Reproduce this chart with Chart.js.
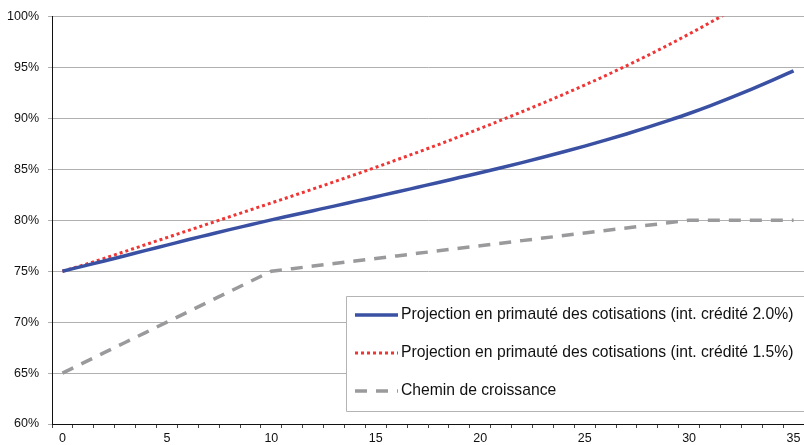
<!DOCTYPE html>
<html>
<head>
<meta charset="utf-8">
<script src="https://cdn.jsdelivr.net/npm/chart.js@4/dist/chart.umd.min.js"></script>
<style>
  html, body { margin: 0; padding: 0; background: #fff; overflow: hidden; }
  #wrap { width: 804px; height: 445px; position: relative; }
</style>
</head>
<body>
<div id="wrap"><canvas id="c" width="804" height="445"></canvas></div>
<script>
const years = Array.from({length: 36}, (_, i) => String(i));
const seriesDC20 = [75.00, 75.50, 76.00, 76.52, 77.04, 77.56, 78.08, 78.58, 79.08, 79.56,
  80.04, 80.49, 80.94, 81.39, 81.85, 82.31, 82.77, 83.24, 83.71, 84.19,
  84.67, 85.16, 85.66, 86.18, 86.72, 87.28, 87.86, 88.47, 89.11, 89.78,
  90.48, 91.23, 92.03, 92.87, 93.75, 94.67];
const seriesDC15 = [75.00, 75.60, 76.26, 76.94, 77.62, 78.30, 78.98, 79.66, 80.34, 81.02,
  81.70, 82.38, 83.07, 83.77, 84.48, 85.20, 85.93, 86.67, 87.43, 88.21,
  89.01, 89.82, 90.65, 91.50, 92.37, 93.27, 94.20, 95.16, 96.16, 97.20,
  98.28, 99.40, 100.56, 101.76, 103.00, 104.28];
const seriesPath = [65, 66, 67, 68, 69, 70, 71, 72, 73, 74,
  75, 75.25, 75.5, 75.75, 76, 76.25, 76.5, 76.75, 77, 77.25,
  77.5, 77.75, 78, 78.25, 78.5, 78.75, 79, 79.25, 79.5, 79.75,
  80, 80, 80, 80, 80, 80];
const legendLabels = [
  'Projection en primauté des cotisations (int. crédité 2.0%)',
  'Projection en primauté des cotisations (int. crédité 1.5%)',
  'Chemin de croissance'
];

const FONT = '"Liberation Sans", Arial, sans-serif';
const BLUE = '#3a51a3';
const RED = '#f03535';
const GREY = '#9a9a9c';

const legendPlugin = {
  id: 'boxLegend',
  afterDraw(chart) {
    const ctx = chart.ctx;
    ctx.save();
    const bx = 346.5, by = 296.5, bh = 115, right = 804;
    ctx.fillStyle = '#fff';
    ctx.fillRect(bx, by, right - bx, bh);
    ctx.strokeStyle = '#b4b4b4';
    ctx.lineWidth = 1;
    ctx.beginPath();
    ctx.moveTo(right, by);
    ctx.lineTo(bx, by);
    ctx.lineTo(bx, by + bh);
    ctx.lineTo(right, by + bh);
    ctx.stroke();
    const rows = [315, 353, 391];
    const styles = [
      {c: BLUE, w: 3.5, d: []},
      {c: RED, w: 3, d: [3, 3]},
      {c: GREY, w: 3.5, d: [12, 9]}
    ];
    rows.forEach((y, i) => {
      const s = styles[i];
      ctx.beginPath();
      ctx.strokeStyle = s.c;
      ctx.lineWidth = s.w;
      ctx.setLineDash(s.d);
      ctx.lineCap = 'butt';
      ctx.moveTo(355, y);
      ctx.lineTo(398, y);
      ctx.stroke();
      ctx.setLineDash([]);
      ctx.fillStyle = '#111';
      ctx.font = '15.7px ' + FONT;
      ctx.textBaseline = 'middle';
      ctx.textAlign = 'left';
      ctx.fillText(legendLabels[i], 401, y);
    });
    ctx.restore();
  }
};

new Chart(document.getElementById('c'), {
  type: 'line',
  data: {
    labels: years,
    datasets: [
      {label: legendLabels[0], data: seriesDC20, borderColor: BLUE, borderWidth: 3.5, pointRadius: 0, cubicInterpolationMode: 'monotone'},
      {label: legendLabels[1], data: seriesDC15, borderColor: RED, borderWidth: 3, borderDash: [3, 3], pointRadius: 0, cubicInterpolationMode: 'monotone'},
      {label: legendLabels[2], data: seriesPath, borderColor: GREY, borderWidth: 3.5, borderDash: [12, 9], pointRadius: 0, tension: 0}
    ]
  },
  options: {
    responsive: false,
    animation: false,
    events: [],
    layout: {padding: {top: 15, right: 0, left: 0, bottom: 0}},
    plugins: {legend: {display: false}, tooltip: {enabled: false}},
    scales: {
      x: {
        type: 'category',
        offset: true,
        grid: {display: true, drawOnChartArea: false, drawTicks: true, tickLength: 4, offset: true, color: '#444'},
        border: {display: true, color: '#111', width: 1},
        ticks: {
          autoSkip: false, maxRotation: 0, minRotation: 0, padding: 3,
          color: '#111', font: {family: FONT, size: 12.5},
          callback: function(v, i) { return i % 5 === 0 ? years[i] : ''; }
        },
        afterFit(scale) { scale.height = 21; }
      },
      y: {
        min: 60, max: 100,
        grid: {color: '#b0b0b0', lineWidth: 1, tickLength: 4},
        border: {display: true, color: '#111', width: 1},
        ticks: {
          stepSize: 5, padding: 9, color: '#111', font: {family: FONT, size: 12.5},
          callback: v => v + '%'
        },
        afterFit(scale) { scale.width = 52; }
      }
    }
  },
  plugins: [legendPlugin]
});
</script>
</body>
</html>
